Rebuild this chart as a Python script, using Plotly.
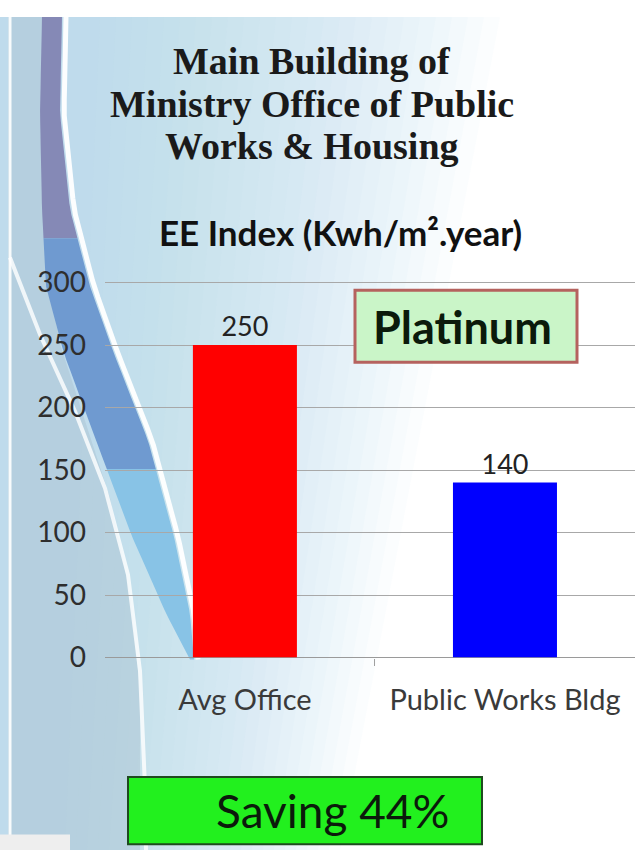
import numpy as np
import plotly.graph_objects as go

# ---- data ----
categories = ["Avg Office", "Public Works Bldg"]
values = [250, 140]
bar_colors = ["#ff0000", "#0000ff"]
y_ticks = [0, 50, 100, 150, 200, 250, 300]
title_lines = ["Main Building of", "Ministry Office of Public", "Works & Housing"]
subtitle = "EE Index (Kwh/m².year)"
badge_text = "Platinum"
saving_text = "Saving 44%"

W, H = 635, 866


def px(x):
    return x / W


def py(y):
    return 1 - y / H


def poly(points):
    return "M " + " L ".join(f"{px(x):.4f},{py(y):.4f}" for x, y in points) + " Z"


def line_path(points):
    return "M " + " L ".join(f"{px(x):.4f},{py(y):.4f}" for x, y in points)


shapes = []
# background gradient (light blue on the left fading to white), slanted edge
for i in range(26):
    xt = 500 - i * 16
    xb = 340 - i * 11
    shapes.append(dict(type="path", xref="paper", yref="paper",
                       path=poly([(0, 0), (xt, 0), (xb, H), (0, H)]),
                       fillcolor="rgba(178,214,236,0.05)", line=dict(width=0), layer="below"))
# left gray-blue band
left_band = [(8, 0), (46, 0), (42, 150), (46, 260), (60, 340), (85, 420), (110, 500), (130, 600),
             (140, 700), (140, 866), (8, 866)]
shapes.append(dict(type="path", xref="paper", yref="paper", path=poly(left_band),
                   fillcolor="rgba(172,195,210,0.5)", line=dict(width=0), layer="below"))
# swoosh
ys = np.array([0, 100, 200, 280, 350, 440, 540, 620, 668])
left_e = np.array([42, 40, 42, 46, 64, 96, 132, 166, 190])
right_e = np.array([62, 60, 70, 90, 114, 148, 174, 190, 194])
segments = [(0, 230, "#8589b6"), (230, 470, "#6f9ad0"), (470, 668, "#88c3e6")]
for y0, y1, col in segments:
    yy = np.linspace(y0, y1, 20)
    le = np.interp(yy, ys, left_e)
    re = np.interp(yy, ys, right_e)
    pts = list(zip(le, yy)) + list(zip(re[::-1], yy[::-1]))
    shapes.append(dict(type="path", xref="paper", yref="paper", path=poly(pts),
                       fillcolor=col, line=dict(width=0), layer="below"))
# white streaks
yy = np.linspace(0, 668, 40)
re = np.interp(yy, ys, right_e) + 4
shapes.append(dict(type="path", xref="paper", yref="paper", path=line_path(list(zip(re, yy))),
                   line=dict(color="rgba(255,255,255,0.95)", width=5), layer="below"))
wl = [(10, 250), (40, 330), (75, 410), (105, 490), (128, 580), (140, 680), (145, 800), (146, 866)]
shapes.append(dict(type="path", xref="paper", yref="paper", path=line_path(wl),
                   line=dict(color="rgba(255,255,255,0.8)", width=4), layer="below"))
shapes.append(dict(type="line", xref="paper", yref="paper", x0=px(10), x1=px(10), y0=0, y1=1,
                   line=dict(color="rgba(255,255,255,0.9)", width=3), layer="below"))
# bottom-left panel corner
shapes.append(dict(type="rect", xref="paper", yref="paper", x0=0, x1=px(70), y0=0, y1=py(850),
                   fillcolor="#eeeeee", line=dict(width=0), layer="below"))

# Platinum badge
shapes.append(dict(type="rect", xref="paper", yref="paper", x0=px(355), x1=px(577), y0=py(359), y1=py(284),
                   fillcolor="#caf5c8", line=dict(color="#b5625e", width=3)))
# Saving box
shapes.append(dict(type="rect", xref="paper", yref="paper", x0=px(128), x1=px(482), y0=py(860), y1=py(790),
                   fillcolor="#22f01e", line=dict(color="#1f4a1f", width=2)))

fig = go.Figure()
fig.add_trace(go.Bar(
    x=[0, 1], y=values, marker=dict(color=bar_colors, line=dict(width=0)), width=0.4,
    text=[str(v) for v in values], textposition="outside", cliponaxis=False,
    textfont=dict(family="Lato", size=27, color="#222222"), hoverinfo="skip",
))

annotations = []
for i, line in enumerate(title_lines):
    annotations.append(dict(text=line, x=px(312), y=py(46 + 44 * i), xref="paper", yref="paper",
                            xanchor="center", yanchor="middle", showarrow=False,
                            font=dict(family="Liberation Serif", size=38, color="#1a1a1a", weight="bold")))
annotations += [
    dict(text=subtitle, x=px(340), y=py(224), xref="paper", yref="paper",
         xanchor="center", yanchor="middle", showarrow=False,
         font=dict(family="Lato", size=35, color="#111111", weight="bold")),
    dict(text=badge_text, x=px(463), y=py(322), xref="paper", yref="paper",
         xanchor="center", yanchor="middle", showarrow=False,
         font=dict(family="Lato", size=45, color="#0b1a0b", weight="bold")),
    dict(text=saving_text, x=px(332), y=py(825), xref="paper", yref="paper",
         xanchor="center", yanchor="middle", showarrow=False,
         font=dict(family="Lato", size=46, color="#0b1a0b")),
]

fig.update_layout(
    width=W, height=H, margin=dict(l=0, r=0, t=0, b=0),
    paper_bgcolor="white", plot_bgcolor="rgba(0,0,0,0)",
    showlegend=False, shapes=shapes, annotations=annotations,
    xaxis=dict(domain=[px(105), 1], range=[-0.538, 1.5], tickvals=[0, 1], ticktext=categories,
               showgrid=False, zeroline=False, showline=False, ticks="",
               tickfont=dict(family="Lato", size=29, color="#3a3a3a"), ticklabelstandoff=22,
               minor=dict(tickvals=[0.5], ticks="outside", ticklen=7, tickcolor="#a0a0a0", showgrid=False)),
    yaxis=dict(domain=[1 - 666 / H, 1 - 274.7 / H], range=[0, 301], tickvals=y_ticks,
               showgrid=True, gridcolor="#a8a8a8", gridwidth=1, zeroline=True, zerolinecolor="#9a9a9a",
               zerolinewidth=1, showline=False, ticks="",
               tickfont=dict(family="Lato", size=28, color="#2e2e2e"), ticklabelstandoff=18),
)

fig.write_html("out.html", config={"displayModeBar": False},
               post_script="document.body.style.margin='0';")
